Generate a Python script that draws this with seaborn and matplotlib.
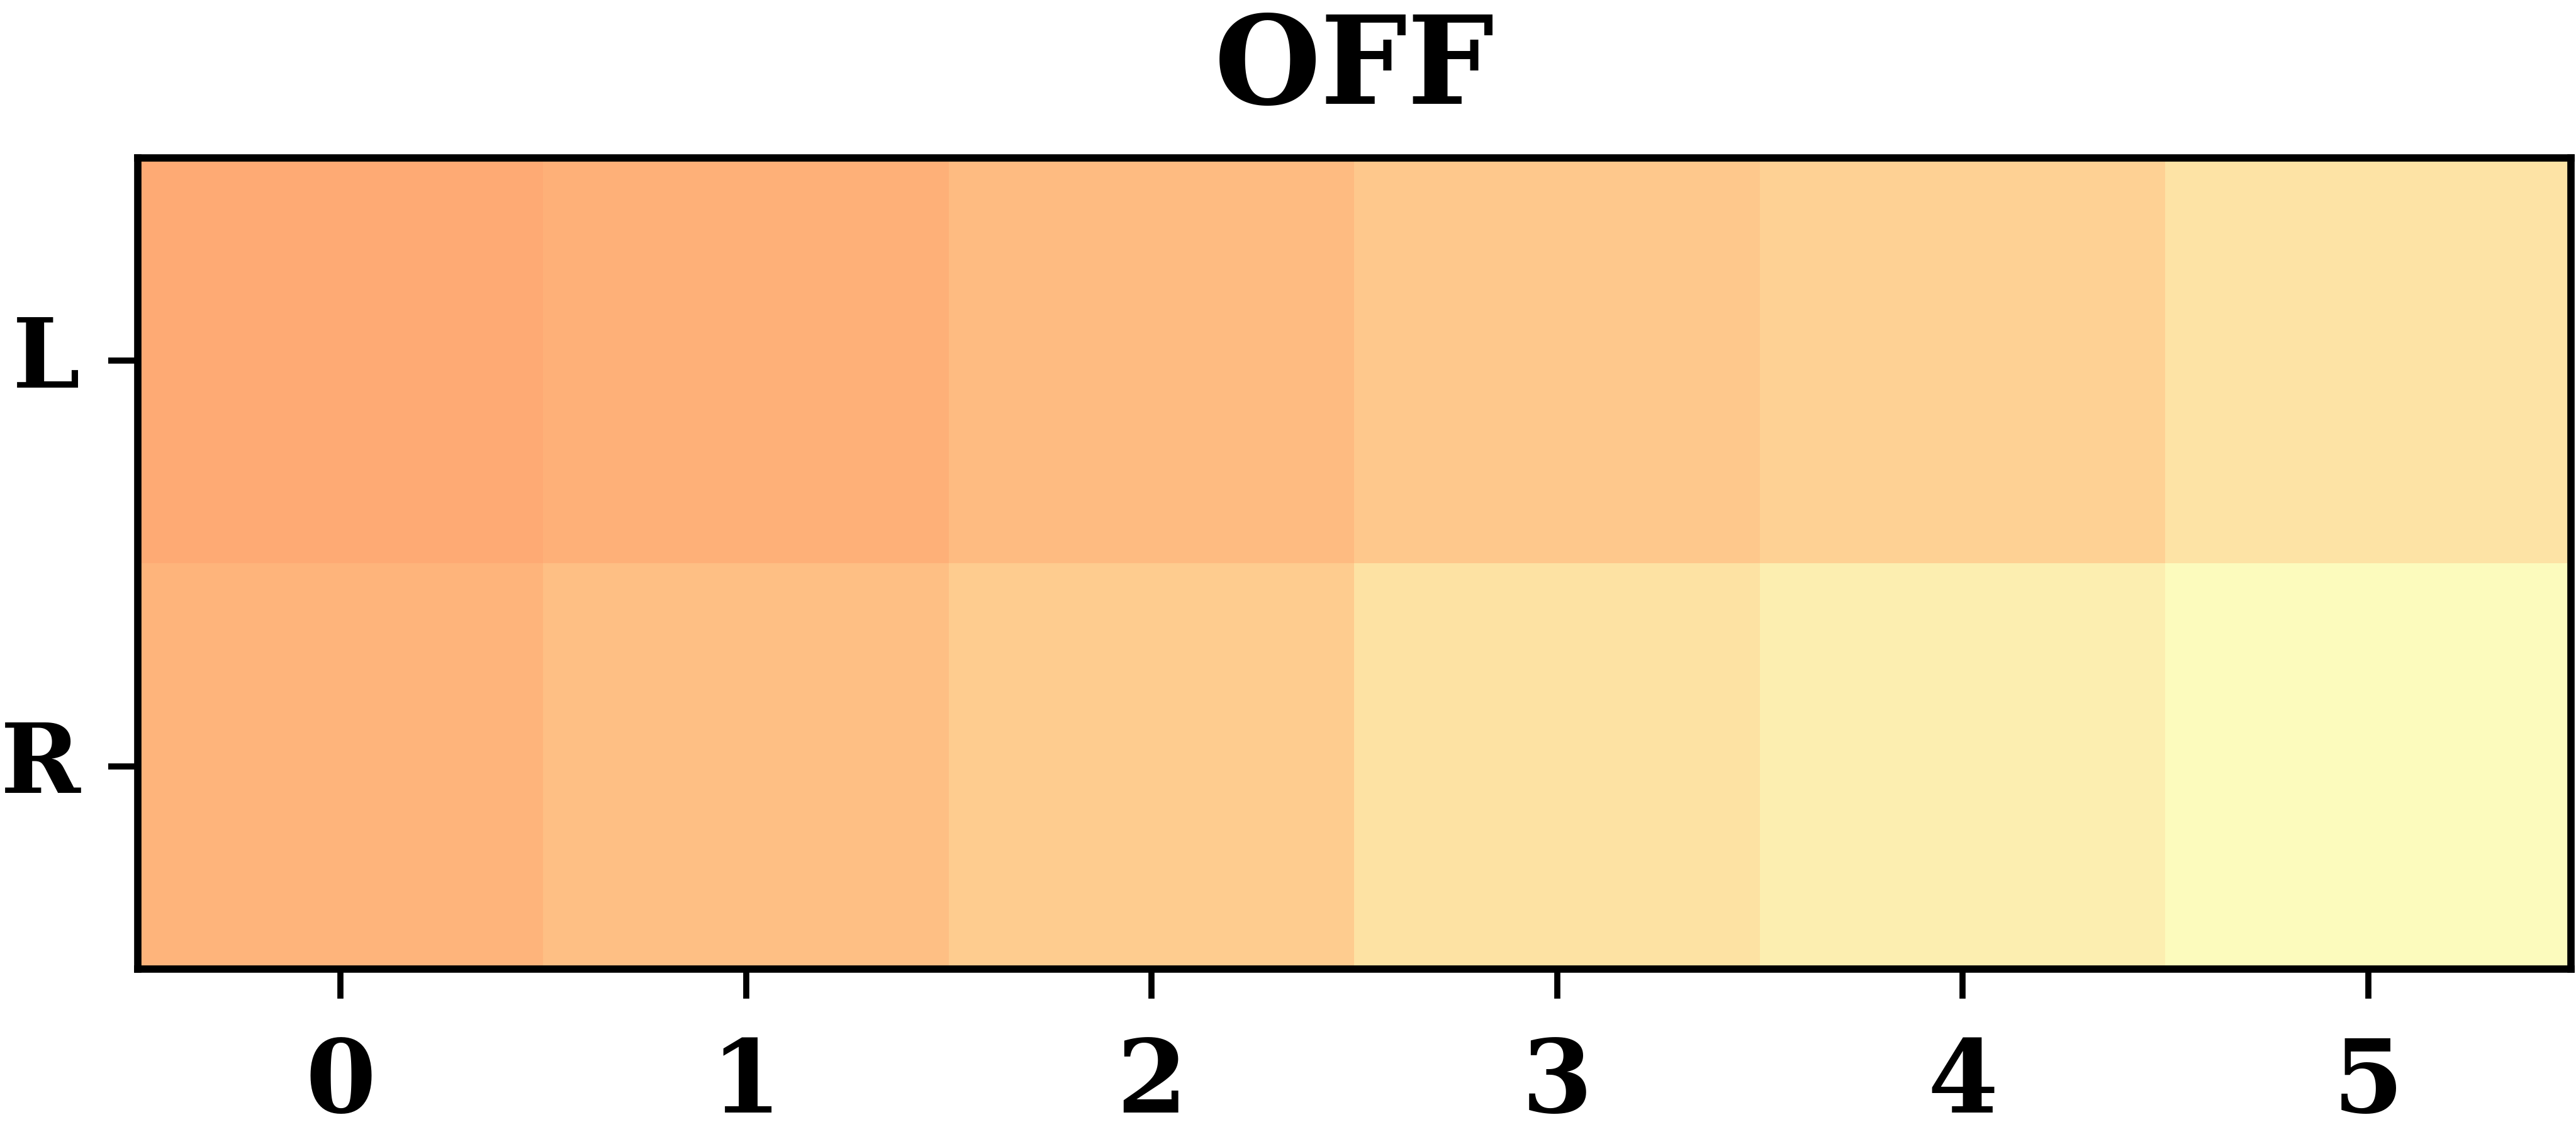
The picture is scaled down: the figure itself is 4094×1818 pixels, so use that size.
import matplotlib
matplotlib.use("Agg")
import matplotlib.pyplot as plt
import seaborn as sns
import pandas as pd

# cell values (magma_r scale, 0..1)
cols = ["0", "1", "2", "3", "4", "5"]
rows = ["L", "R"]
L_vals = [0.176, 0.167, 0.142, 0.114, 0.095, 0.055]
R_vals = [0.157, 0.136, 0.108, 0.059, 0.032, 0.006]

df = pd.DataFrame([L_vals, R_vals], index=rows, columns=cols)

sns.set_style("white")
plt.rcParams['font.family'] = ['DejaVu Serif']
plt.rcParams['font.weight'] = 'bold'
plt.rcParams['text.color'] = 'black'
plt.rcParams['xtick.color'] = 'black'
plt.rcParams['ytick.color'] = 'black'

fig, ax = plt.subplots(figsize=(20.47, 9.09), dpi=200)
fig.subplots_adjust(left=0.0535, right=0.998, top=0.862, bottom=0.153)

sns.heatmap(df, cmap="magma_r", vmin=0, vmax=1, cbar=False, ax=ax)

for s in ax.spines.values():
    s.set_visible(True)
    s.set_color("black")
    s.set_linewidth(4.2)

ax.tick_params(axis="both", bottom=True, left=True, length=17, width=3.5,
               color="black", labelcolor="black")
ax.tick_params(axis="x", pad=21, labelsize=58)
ax.tick_params(axis="y", pad=16, labelsize=55)
plt.setp(ax.get_yticklabels(), rotation=0, fontweight="bold")
plt.setp(ax.get_xticklabels(), rotation=0, fontweight="bold")
ax.set_xlabel("")
ax.set_ylabel("")
ax.set_title("OFF", fontsize=70, fontweight="bold", pad=31, color="black")

fig.savefig("out.png", dpi=200)
